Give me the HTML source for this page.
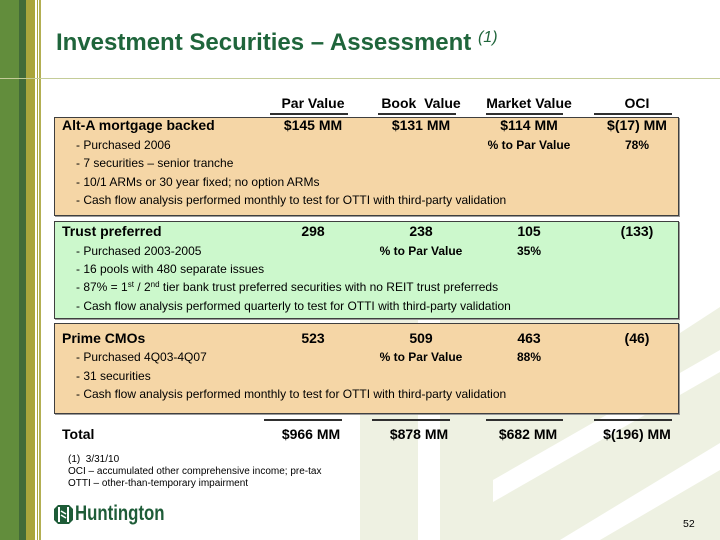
<!DOCTYPE html>
<html><head><meta charset="utf-8"><style>
*{margin:0;padding:0;box-sizing:border-box}
body{width:720px;height:540px;position:relative;overflow:hidden;background:#fff;font-family:"Liberation Sans",Arial,sans-serif;color:#000}
.a{position:absolute;white-space:nowrap}
.b14{font-size:14px;font-weight:bold;line-height:16px}
.r12{font-size:12px;line-height:14px}
.b12{font-size:12px;font-weight:bold;line-height:14px}
.c{width:108px;text-align:center}
.box{position:absolute;left:54px;width:625px;border:1px solid #3f3f3f;box-shadow:1px 1px 0 #9a9a9a}
.ul{position:absolute;height:2px;background:#2f2f2f}
.fn{font-size:10px;line-height:12px}
</style></head><body>
<svg class="a" style="left:0;top:0" width="720" height="540">
 <g fill="#eef1e2">
  <rect x="360" y="300" width="58" height="240"/>
  <rect x="440" y="300" width="53" height="240"/>
  <polygon points="493,300 680,300 680,333 720,307 720,350 493,480"/>
  <polygon points="493,502 720,372 720,443 560,540 493,540"/>
  <polygon points="600,540 720,470 720,540"/>
 </g>
 <rect x="0" y="0" width="19" height="540" fill="#628d3c"/>
 <rect x="19" y="0" width="7" height="540" fill="#426b38"/>
 <rect x="26" y="0" width="9" height="540" fill="#a9a53c"/>
 <rect x="37" y="0" width="1" height="540" fill="#a9a53c"/>
 <rect x="39" y="0" width="2" height="540" fill="#b3af52"/>
 <rect x="0" y="78" width="720" height="1" fill="#c4cc98"/>
</svg>

<div class="a" style="left:56px;top:29px;font-size:24px;font-weight:bold;line-height:28px;color:#1f653b">Investment Securities – Assessment <span style="font-size:16px;font-weight:normal;font-style:italic;position:relative;top:-8px">(1)</span></div>

<!-- headers -->
<div class="a b14 c" style="left:259px;top:95px">Par Value</div>
<div class="a b14 c" style="left:367px;top:95px">Book&nbsp; Value</div>
<div class="a b14 c" style="left:475px;top:95px">Market Value</div>
<div class="a b14 c" style="left:583px;top:95px">OCI</div>
<div class="ul" style="left:270px;top:113px;width:78px"></div>
<div class="ul" style="left:378px;top:113px;width:78px"></div>
<div class="ul" style="left:486px;top:113px;width:77px"></div>
<div class="ul" style="left:594px;top:113px;width:78px"></div>

<!-- box 1 -->
<div class="box" style="top:117px;height:99px;background:#f5d6a6"></div>
<div class="a b14" style="left:62px;top:117px">Alt-A mortgage backed</div>
<div class="a b14 c" style="left:259px;top:117px">$145 MM</div>
<div class="a b14 c" style="left:367px;top:117px">$131 MM</div>
<div class="a b14 c" style="left:475px;top:117px">$114 MM</div>
<div class="a b14 c" style="left:583px;top:117px">$(17) MM</div>
<div class="a r12" style="left:76px;top:138px">- Purchased 2006</div>
<div class="a b12 c" style="left:475px;top:138px">% to Par Value</div>
<div class="a b12 c" style="left:583px;top:138px">78%</div>
<div class="a r12" style="left:76px;top:156px">- 7 securities – senior tranche</div>
<div class="a r12" style="left:76px;top:175px">- 10/1 ARMs or 30 year fixed; no option ARMs</div>
<div class="a r12" style="left:76px;top:193px">- Cash flow analysis performed monthly to test for OTTI with third-party validation</div>

<!-- box 2 -->
<div class="box" style="top:221px;height:98px;background:#ccf8cc"></div>
<div class="a b14" style="left:62px;top:223px">Trust preferred</div>
<div class="a b14 c" style="left:259px;top:223px">298</div>
<div class="a b14 c" style="left:367px;top:223px">238</div>
<div class="a b14 c" style="left:475px;top:223px">105</div>
<div class="a b14 c" style="left:583px;top:223px">(133)</div>
<div class="a r12" style="left:76px;top:244px">- Purchased 2003-2005</div>
<div class="a b12 c" style="left:367px;top:244px">% to Par Value</div>
<div class="a b12 c" style="left:475px;top:244px">35%</div>
<div class="a r12" style="left:76px;top:262px">- 16 pools with 480 separate issues</div>
<div class="a r12" style="left:76px;top:280px">- 87% = 1<sup style="font-size:8px;vertical-align:4px;line-height:0">st</sup> / 2<sup style="font-size:8px;vertical-align:4px;line-height:0">nd</sup> tier bank trust preferred securities with no REIT trust preferreds</div>
<div class="a r12" style="left:76px;top:299px">- Cash flow analysis performed quarterly to test for OTTI with third-party validation</div>

<!-- box 3 -->
<div class="box" style="top:323px;height:91px;background:#f5d6a6"></div>
<div class="a b14" style="left:62px;top:330px">Prime CMOs</div>
<div class="a b14 c" style="left:259px;top:330px">523</div>
<div class="a b14 c" style="left:367px;top:330px">509</div>
<div class="a b14 c" style="left:475px;top:330px">463</div>
<div class="a b14 c" style="left:583px;top:330px">(46)</div>
<div class="a r12" style="left:76px;top:350px">- Purchased 4Q03-4Q07</div>
<div class="a b12 c" style="left:367px;top:350px">% to Par Value</div>
<div class="a b12 c" style="left:475px;top:350px">88%</div>
<div class="a r12" style="left:76px;top:369px">- 31 securities</div>
<div class="a r12" style="left:76px;top:387px">- Cash flow analysis performed monthly to test for OTTI with third-party validation</div>

<!-- total -->
<div class="ul" style="left:264px;top:419px;width:78px"></div>
<div class="ul" style="left:372px;top:419px;width:78px"></div>
<div class="ul" style="left:486px;top:419px;width:77px"></div>
<div class="ul" style="left:594px;top:419px;width:78px"></div>
<div class="a b14" style="left:62px;top:426px">Total</div>
<div class="a b14 c" style="left:257px;top:426px">$966 MM</div>
<div class="a b14 c" style="left:365px;top:426px">$878 MM</div>
<div class="a b14 c" style="left:474px;top:426px">$682 MM</div>
<div class="a b14 c" style="left:583px;top:426px">$(196) MM</div>

<div class="a fn" style="left:68px;top:454px">(1)&nbsp; 3/31/10</div>
<div class="a fn" style="left:68px;top:466px">OCI – accumulated other comprehensive income; pre-tax</div>
<div class="a fn" style="left:68px;top:478px">OTTI – other-than-temporary impairment</div>

<!-- logo -->
<svg class="a" style="left:54px;top:505px" width="19" height="19" viewBox="0 0 19 19">
 <polygon points="4,0 15,0 19,4 19,15 15,19 4,19 0,15 0,4" fill="#1e5c38"/>
 <rect x="4" y="2" width="2" height="15" fill="#fff"/>
 <rect x="13" y="2" width="2" height="15" fill="#fff"/>
 <path d="M7 6 L12 9 M7 10 L12 13" stroke="#fff" stroke-width="1.6"/>
</svg>
<div class="a" style="left:75px;top:502px;font-size:21px;font-weight:bold;line-height:24px;color:#1e5c38;transform:scaleX(0.8);transform-origin:0 0">Huntington</div>

<div class="a" style="left:683px;top:518px;font-size:10.5px;line-height:12px">52</div>
</body></html>
